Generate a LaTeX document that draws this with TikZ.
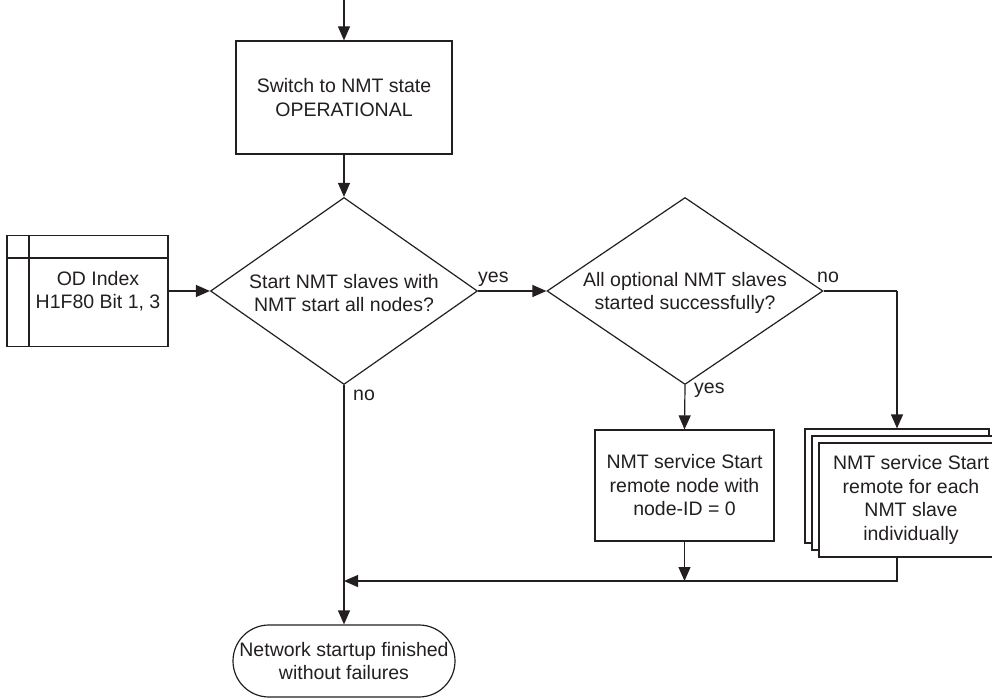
\documentclass[tikz,border=0pt]{standalone}
\usepackage{fontspec}
\setmainfont{Liberation Sans}
\usetikzlibrary{shapes.geometric,shapes.misc,arrows.meta}
\definecolor{ink}{HTML}{231F20}
\begin{document}
\begin{tikzpicture}[x=1pt,y=-1pt,
  every node/.style={font=\fontsize{19.5}{23.5}\selectfont, text=ink},
  line/.style={draw=ink, line width=1.2pt},
  arr/.style={line, -{Triangle[length=14pt,width=12pt]}},
  box/.style={line, rectangle, inner sep=0pt, align=center, fill=white},
  dia/.style={line, diamond, inner sep=0pt, align=center},
  lbl/.style={inner sep=0pt, anchor=base west}]
\useasboundingbox (0,0) rectangle (992,700);
\clip (0,0) rectangle (992,700);

% top box
\coordinate (start) at (344,0);
\node[box, minimum width=216pt, minimum height=113pt] (op) at (344,97.5) {Switch to NMT state\\OPERATIONAL};

% decision 1
\node[dia, minimum width=267pt, minimum height=187pt] (d1) at (344,291) {};
\node[align=center] (t1) at (344,293) {Start NMT slaves with\\NMT start all nodes?};

% OD box
\node[box, minimum width=161pt, minimum height=111pt] (od) at (87.5,291) {};
\draw[line] (7,258) -- (168,258);
\draw[line] (29,235.5) -- (29,346.5);
\node[align=center] (odt) at (98,291) {OD Index\\H1F80 Bit 1, 3};

% decision 2
\node[dia, minimum width=276pt, minimum height=187pt] (d2) at (685,291) {};
\node[align=center] (t2) at (685,293) {All optional NMT slaves\\started successfully?};

% box NMT node 0
\node[box, minimum width=179pt, minimum height=111pt] (n0) at (684.5,485.5) {NMT service Start\\remote node with\\node-ID = 0};

% stacked boxes
\node[box, minimum width=184pt, minimum height=114pt] (s3) at (897,486) {};
\node[box, minimum width=184pt, minimum height=114pt] (s2) at (904,493) {};
\node[box, minimum width=184pt, minimum height=114pt] (s1) at (911,500) {NMT service Start\\remote for each\\NMT slave\\individually};

% terminal
\node[line, rounded rectangle, minimum width=222pt, minimum height=72pt, inner sep=0pt, align=center] (end) at (344,661) {Network startup finished\\without failures};

% junction coordinates
\coordinate (j1) at (344,581);
\coordinate (j2) at (684.5,581);
\coordinate (c1) at (897,291);
\coordinate (c2) at (897,581);

% connectors
\draw[arr] (start) -- (op.north);
\draw[arr] (op.south) -- (d1.north);
\draw[arr] (od.east) -- (d1.west);
\draw[arr] (d1.east) -- (d2.west);
\draw[arr] (d2.south) -- (n0.north);
\draw[line] (d2.east) -- (c1);
\draw[arr] (c1) -- (s3.north);
\draw[arr] (n0.south) -- (j2);
\draw[arr] (s1.south -| c1) -- (c2) -- (j1);
\draw[arr] (d1.south) -- (end.north);

% labels
\node[lbl] at (353,400) {no};
\node[lbl] at (478,283) {yes};
\node[lbl] at (694,393) {yes};
\node[lbl] at (817,283) {no};
\end{tikzpicture}
\end{document}
